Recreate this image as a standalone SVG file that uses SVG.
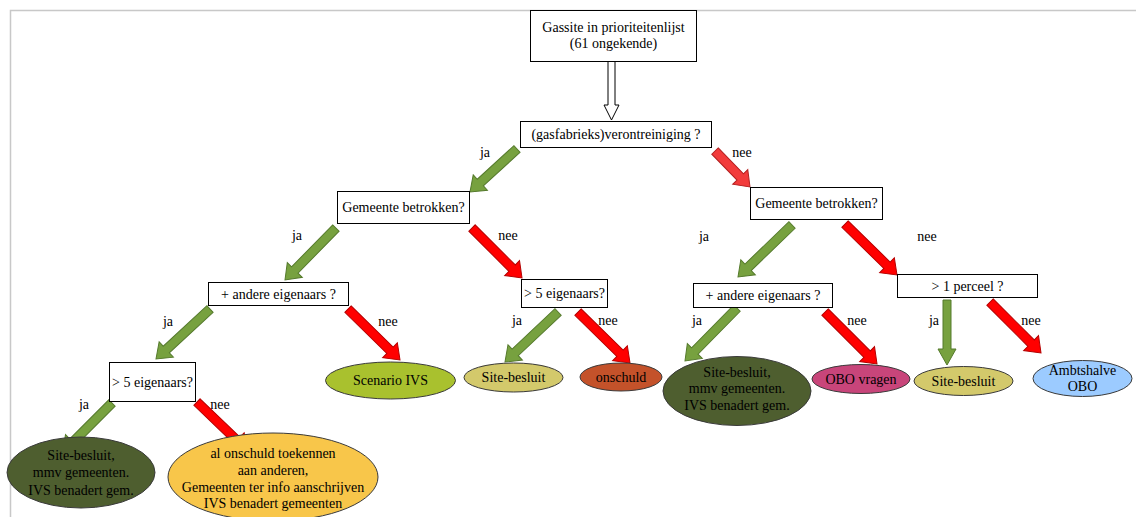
<svg xmlns="http://www.w3.org/2000/svg" width="1136" height="517" viewBox="0 0 1136 517">
<style>
text{font-family:"Liberation Serif","Times New Roman",serif;font-size:14px;fill:#000;text-anchor:middle}
.box{fill:#fff;stroke:#000;stroke-width:1}
.ell{stroke:#3a3a3a;stroke-width:1}
.g{fill:#77a13f;stroke:#557a2c;stroke-width:1}
.r{fill:#ff0000;stroke:#b40000;stroke-width:1}
.r2{fill:#f23b3b;stroke:#b42020;stroke-width:1}
.hollow{fill:#fff;stroke:#000;stroke-width:1}
.border{stroke:#c8c8c8;fill:none;stroke-width:1.5}
</style>
<path class="border" d="M10.5,517 V10.5 H1136"/>

<g id="connectors">
  <polygon class="hollow" points="608,61.5 615,61.5 615,105 619,105 611.5,120 604,105 608,105"/>
  <polygon class="g" transform="translate(470,192) rotate(137.5)" points="-63.7,-4.5 -14,-4.5 -14,-10.5 0,0 -14,10.5 -14,4.5 -63.7,4.5"/>
  <polygon class="r2" transform="translate(750,187) rotate(45.8)" points="-50.2,-4.5 -14,-4.5 -14,-10.5 0,0 -14,10.5 -14,4.5 -50.2,4.5"/>
  <polygon class="g" transform="translate(285,280) rotate(134.4)" points="-72.8,-4.5 -14,-4.5 -14,-10.5 0,0 -14,10.5 -14,4.5 -72.8,4.5"/>
  <polygon class="r" transform="translate(522,278) rotate(45)" points="-70.7,-4.5 -14,-4.5 -14,-10.5 0,0 -14,10.5 -14,4.5 -70.7,4.5"/>
  <polygon class="g" transform="translate(156,359) rotate(137.2)" points="-73.6,-4.5 -14,-4.5 -14,-10.5 0,0 -14,10.5 -14,4.5 -73.6,4.5"/>
  <polygon class="r" transform="translate(400,360) rotate(44.4)" points="-72.8,-4.5 -14,-4.5 -14,-10.5 0,0 -14,10.5 -14,4.5 -72.8,4.5"/>
  <polygon class="g" transform="translate(63,452) rotate(135)" points="-69.3,-4.5 -14,-4.5 -14,-10.5 0,0 -14,10.5 -14,4.5 -69.3,4.5"/>
  <polygon class="r" transform="translate(247,450) rotate(43.8)" points="-69.3,-4.5 -14,-4.5 -14,-10.5 0,0 -14,10.5 -14,4.5 -69.3,4.5"/>
  <polygon class="g" transform="translate(505,362) rotate(136.7)" points="-72.9,-4.5 -14,-4.5 -14,-10.5 0,0 -14,10.5 -14,4.5 -72.9,4.5"/>
  <polygon class="r" transform="translate(630,363) rotate(44.4)" points="-72.8,-4.5 -14,-4.5 -14,-10.5 0,0 -14,10.5 -14,4.5 -72.8,4.5"/>
  <polygon class="g" transform="translate(738,277) rotate(136.1)" points="-75,-4.5 -14,-4.5 -14,-10.5 0,0 -14,10.5 -14,4.5 -75,4.5"/>
  <polygon class="r" transform="translate(897,275) rotate(44.4)" points="-72.8,-4.5 -14,-4.5 -14,-10.5 0,0 -14,10.5 -14,4.5 -72.8,4.5"/>
  <polygon class="g" transform="translate(685,361) rotate(134.5)" points="-74.2,-4.5 -14,-4.5 -14,-10.5 0,0 -14,10.5 -14,4.5 -74.2,4.5"/>
  <polygon class="r" transform="translate(877,364) rotate(45)" points="-73.5,-4.5 -14,-4.5 -14,-10.5 0,0 -14,10.5 -14,4.5 -73.5,4.5"/>
  <polygon class="g" points="943,300 951,300 951,349 956,349 947,365 938,349 943,349"/>
  <polygon class="r" transform="translate(1041,353) rotate(45)" points="-72.1,-4.5 -14,-4.5 -14,-10.5 0,0 -14,10.5 -14,4.5 -72.1,4.5"/>

  <text x="485" y="157">ja</text>
  <text x="742" y="157">nee</text>
  <text x="297" y="240">ja</text>
  <text x="508" y="240">nee</text>
  <text x="704" y="241">ja</text>
  <text x="927" y="241">nee</text>
  <text x="168" y="326">ja</text>
  <text x="388" y="326">nee</text>
  <text x="84" y="409">ja</text>
  <text x="220" y="409">nee</text>
  <text x="517" y="325">ja</text>
  <text x="608" y="325">nee</text>
  <text x="697" y="325">ja</text>
  <text x="857" y="325">nee</text>
  <text x="934" y="325">ja</text>
  <text x="1031" y="325">nee</text>
</g>

<g id="n-start">
  <rect class="box" x="530.5" y="10.5" width="166" height="51"/>
  <text x="613.5" y="32">Gassite in prioriteitenlijst</text>
  <text x="613.5" y="48">(61 ongekende)</text>
</g>
<g id="n-verontreiniging">
  <rect class="box" x="520.5" y="121.5" width="191" height="26"/>
  <text x="616" y="139">(gasfabrieks)verontreiniging ?</text>
</g>
<g id="n-gemeente-l">
  <rect class="box" x="337.5" y="191.5" width="132" height="32"/>
  <text x="403.5" y="212">Gemeente betrokken?</text>
</g>
<g id="n-gemeente-r">
  <rect class="box" x="750.5" y="187.5" width="132" height="32"/>
  <text x="816.5" y="208">Gemeente betrokken?</text>
</g>
<g id="n-andere-l">
  <rect class="box" x="208.5" y="282.5" width="140" height="23"/>
  <text x="278.5" y="299">+ andere eigenaars ?</text>
</g>
<g id="n-vijf-m">
  <rect class="box" x="521.5" y="279.5" width="86" height="28"/>
  <text x="564.5" y="298">&gt; 5 eigenaars?</text>
</g>
<g id="n-andere-r">
  <rect class="box" x="693.5" y="283.5" width="139" height="24"/>
  <text x="763" y="300">+ andere eigenaars ?</text>
</g>
<g id="n-perceel">
  <rect class="box" x="897.5" y="274.5" width="140" height="23"/>
  <text x="967.5" y="291">&gt; 1 perceel ?</text>
</g>
<g id="n-vijf-l">
  <rect class="box" x="109.5" y="362.5" width="86" height="39"/>
  <text x="152.5" y="387">&gt; 5 eigenaars?</text>
</g>

<g id="e-scenario">
  <ellipse class="ell" cx="390.5" cy="380.5" rx="65" ry="18.5" fill="#a9c12e"/>
  <text x="390.5" y="385">Scenario IVS</text>
</g>
<g id="e-site-m">
  <ellipse class="ell" cx="513.5" cy="377.5" rx="49.5" ry="14.5" fill="#d3c96b"/>
  <text x="513.5" y="382">Site-besluit</text>
</g>
<g id="e-onschuld">
  <ellipse class="ell" cx="621" cy="377" rx="41" ry="14" fill="#c4522a"/>
  <text x="621" y="382">onschuld</text>
</g>
<g id="e-site-dark-r">
  <ellipse class="ell" cx="737" cy="391" rx="74" ry="34.5" fill="#4e5e2f"/>
  <text x="737" y="377">Site-besluit,</text>
  <text x="737" y="393">mmv gemeenten.</text>
  <text x="737" y="410">IVS benadert gem.</text>
</g>
<g id="e-obo">
  <ellipse class="ell" cx="861" cy="379" rx="49" ry="14.5" fill="#c8457a"/>
  <text x="861" y="384">OBO vragen</text>
</g>
<g id="e-site-r">
  <ellipse class="ell" cx="963.5" cy="381" rx="49.5" ry="14.5" fill="#d3c96b"/>
  <text x="963.5" y="386">Site-besluit</text>
</g>
<g id="e-ambtshalve">
  <ellipse class="ell" cx="1082.5" cy="378.5" rx="49.5" ry="18" fill="#9ccbff"/>
  <text x="1082.5" y="375">Ambtshalve</text>
  <text x="1082.5" y="391">OBO</text>
</g>
<g id="e-site-dark-l">
  <ellipse class="ell" cx="81" cy="472.5" rx="74" ry="35.5" fill="#4e5e2f"/>
  <text x="81" y="460">Site-besluit,</text>
  <text x="81" y="477">mmv gemeenten.</text>
  <text x="81" y="495">IVS benadert gem.</text>
</g>
<g id="e-onschuld-toekennen">
  <ellipse class="ell" cx="273" cy="477" rx="105" ry="44" fill="#f8c64a"/>
  <text x="273" y="458">al onschuld toekennen</text>
  <text x="273" y="475">aan anderen,</text>
  <text x="273" y="492">Gemeenten ter info aanschrijven</text>
  <text x="273" y="508">IVS benadert gemeenten</text>
</g>
</svg>
